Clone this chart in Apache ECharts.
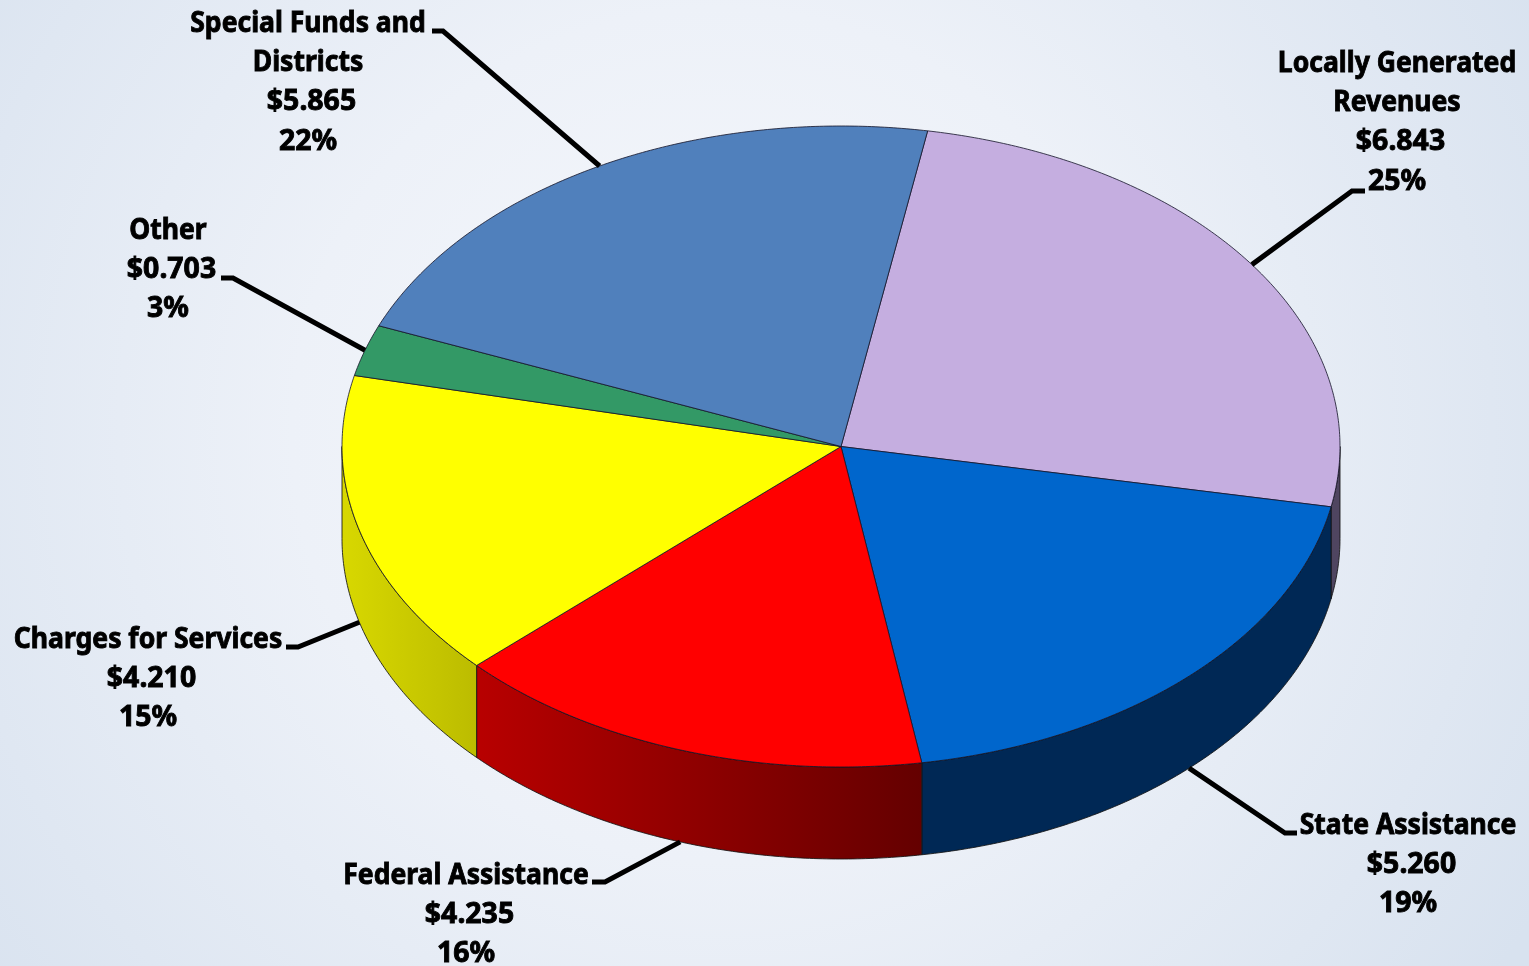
<!DOCTYPE html>
<html>
<head>
<meta charset="utf-8">
<style>html,body{margin:0;padding:0;width:100%;height:100%;overflow:hidden}#c{width:1529px;height:966px}</style>
<script src="https://cdn.jsdelivr.net/npm/echarts@6/dist/echarts.min.js"></script>
</head>
<body>
<div id="c"></div>
<script>
const categories = ['Locally Generated\nRevenues','State Assistance','Federal Assistance','Charges for Services','Other','Special Funds and\nDistricts'];
const values = [6.843,5.260,4.235,4.210,0.703,5.865];
const valueLabels = ['$6.843','$5.260','$4.235','$4.210','$0.703','$5.865'];
const percentLabels = ['25%','19%','16%','15%','3%','22%'];
const topColors = ['#c5aee0','#0066cc','#ff0000','#ffff00','#339966','#5080bc'];
const wallColors = [['#4f4560','#4f4560'],['#002855','#002855'],['#b80000','#640000'],['#d8d800','#bcbc00'],['#339966','#339966'],['#5080bc','#5080bc']];

// pie geometry
const CX = 841, CY = 446.5, RX = 499, RY = 320.5, DEPTH = 92, START_DEG = 10;
// label layout: centre x, centre y of first line; leader elbow and tail
const labelX = [1397,1408,466,148,168,308];
const labelY = [64,826,876,640,231,24];
const elbowX = [1352,1285,605,298,233,443];
const elbowY = [191,833,882,647,278,31];
const tailX  = [1365,1297,592,286,221,432];
const LINE_H = 39.1, FONT = 29, SCALE_X = 0.915, SCALE_X_NUM = 0.98, VALUE_SHIFT = 3.5;

const total = values.reduce((a,b)=>a+b,0);
const startAngles = [];
values.reduce((acc,v,i)=>{startAngles[i]=acc;return acc+v/total*360;},START_DEG);
const pt = (deg,dy) => {
  const r = deg*Math.PI/180;
  return [CX+RX*Math.sin(r), CY-RY*Math.cos(r)+(dy||0)];
};
const arc = (a,b,dy) => {
  const n = Math.max(2,Math.ceil(Math.abs(b-a)/0.5)), out=[];
  for(let i=0;i<=n;i++) out.push(pt(a+(b-a)*i/n,dy));
  return out;
};
const sweep = i => [startAngles[i], startAngles[i]+values[i]/total*360];

function renderWall(params, api){
  const i = params.dataIndex, s = sweep(i);
  const a = Math.max(s[0],90), b = Math.min(s[1],270);
  if(b<=a) return {type:'group',children:[]};
  const pts = arc(a,b,0).concat(arc(b,a,DEPTH));
  return {type:'polygon',shape:{points:pts},style:{
    fill:new echarts.graphic.LinearGradient(0,0,1,0,[{offset:0,color:wallColors[i][0]},{offset:1,color:wallColors[i][1]}]),
    stroke:'rgba(20,20,20,0.85)',lineWidth:1}};
}
function renderTop(params, api){
  const i = params.dataIndex, s = sweep(i);
  const pts = [[CX,CY]].concat(arc(s[0],s[1],0));
  return {type:'polygon',shape:{points:pts},style:{fill:topColors[i],stroke:'rgba(20,20,40,0.8)',lineWidth:1}};
}
function renderLabel(params, api){
  const i = params.dataIndex, s = sweep(i), mid=(s[0]+s[1])/2;
  const front = mid>90 && mid<270;
  const anchor = pt(mid, front?DEPTH:0);
  const names = categories[i].split('\n');
  const lines = names.concat([valueLabels[i],percentLabels[i]]);
  const children = [{type:'polyline',shape:{points:[anchor,[elbowX[i],elbowY[i]],[tailX[i],elbowY[i]]]},
    style:{fill:null,stroke:'#000',lineWidth:5,lineJoin:'miter'}}];
  lines.forEach((t,k)=>children.push({type:'text',
    x:labelX[i]+(k===names.length?VALUE_SHIFT:0),y:labelY[i]+k*LINE_H,
    scaleX:k<names.length?SCALE_X:SCALE_X_NUM,
    style:{text:t,x:0,y:0,align:'center',verticalAlign:'middle',fill:'#000',
      stroke:'#000',lineWidth:0.9,font:'700 '+FONT+'px "Noto Sans"'}}));
  return {type:'group',children};
}
const chart = echarts.init(document.getElementById('c'),null,{renderer:'canvas'});
const data = values.map((v,i)=>({name:categories[i].replace('\n',' '),value:v}));
const base = {type:'custom',coordinateSystem:'none',data,animation:false,silent:true,clip:false};
chart.setOption({
  backgroundColor:new echarts.graphic.RadialGradient(0.47,0.45,0.98,[
    {offset:0,color:'#f6f8fc'},{offset:0.45,color:'#edf1f8'},{offset:1,color:'#d8e2ef'}]),
  animation:false,
  series:[
    Object.assign({},base,{name:'walls',z:1,renderItem:renderWall}),
    Object.assign({},base,{name:'top',z:2,renderItem:renderTop}),
    Object.assign({},base,{name:'labels',z:3,renderItem:renderLabel})
  ]
});
</script>
</body>
</html>
